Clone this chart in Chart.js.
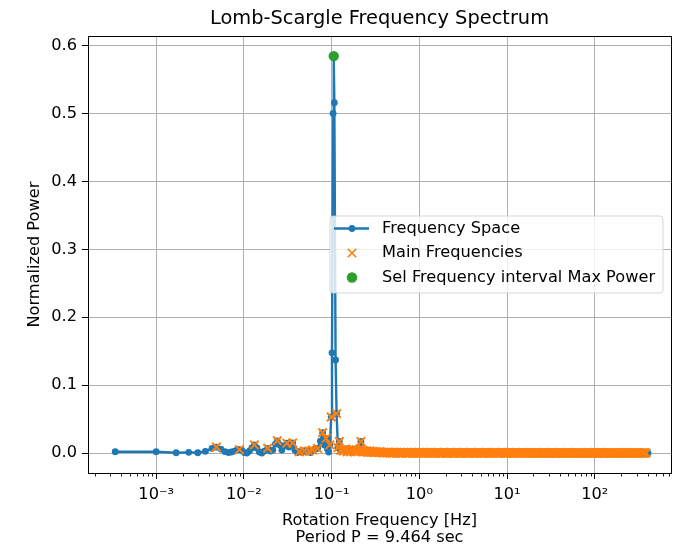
<!DOCTYPE html>
<html>
<head>
<meta charset="utf-8">
<title>Lomb-Scargle Frequency Spectrum</title>
<script src="https://cdn.jsdelivr.net/npm/chart.js@4.4.1/dist/chart.umd.min.js"></script>
<style>
  html, body { margin: 0; padding: 0; background: #fff; }
  #wrap { width: 682px; height: 547px; }
</style>
</head>
<body>
<div id="wrap"><canvas id="spectrum" width="682" height="547"></canvas></div>
<script>
// periodogram below ~0.13 Hz, including the main peak
const lowFreqs = [
  0.000341, 0.00100, 0.00169, 0.00235, 0.00298, 0.00364, 0.00434, 0.00486, 0.00547, 0.00608,
  0.00666, 0.00721, 0.00779, 0.00843, 0.00889, 0.00949, 0.01013, 0.01082, 0.01155, 0.01233,
  0.01317, 0.01406, 0.01501, 0.01603, 0.01712, 0.01867, 0.02004, 0.02139, 0.02285, 0.02406,
  0.02570, 0.02709, 0.02856, 0.03088, 0.03254, 0.03385, 0.03596, 0.03809, 0.04067, 0.04287,
  0.04587, 0.04887, 0.05200, 0.05500, 0.05780, 0.06076, 0.06523, 0.06928, 0.07434, 0.07900,
  0.08260, 0.08640, 0.08950, 0.09250, 0.09550, 0.09900, 0.10100, 0.10400, 0.10570, 0.10750,
  0.11100, 0.11400, 0.11800, 0.12240, 0.12700
];
const lowPowers = [
  0.0019, 0.0019, 0.0004, 0.0010, 0.0004, 0.0025, 0.0069, 0.0088, 0.0059, 0.0022,
  0.0007, 0.0015, 0.0029, 0.0051, 0.0050, 0.0037, 0.0007, 0.0000, 0.0029, 0.0074,
  0.0120, 0.0074, 0.0015, 0.0000, 0.0029, 0.0070, 0.0029, 0.0044, 0.0132, 0.0180,
  0.0118, 0.0044, 0.0103, 0.0145, 0.0088, 0.0118, 0.0150, 0.0044, 0.0007, 0.0020,
  0.0010, 0.0030, 0.0015, 0.0029, 0.0007, 0.0044, 0.0059, 0.0069, 0.0176, 0.0300,
  0.0120, 0.0216, 0.0060, 0.0015, 0.0120, 0.0530, 0.1475, 0.5000, 0.5845, 0.5160,
  0.1370, 0.0580, 0.0080, 0.0170, 0.0040
];

// flagged frequencies in the low band
const mainFreqs = [
  0.00486, 0.00889, 0.01317, 0.01867, 0.02406, 0.03088, 0.03596, 0.04287, 0.04887, 0.05500,
  0.06076, 0.06928, 0.07900, 0.08640, 0.09550, 0.09900, 0.11400, 0.11800, 0.12240, 0.12700
];
const mainPowers = [
  0.0088, 0.0050, 0.0120, 0.0070, 0.0180, 0.0145, 0.0150, 0.0020, 0.0030, 0.0029,
  0.0044, 0.0069, 0.0300, 0.0216, 0.0120, 0.0530, 0.0580, 0.0080, 0.0170, 0.0040
];

// dense tail above 0.13 Hz, all of it flagged as well
const tailFreqs = [
  0.132, 0.136, 0.140, 0.145, 0.150, 0.155, 0.160, 0.165, 0.170, 0.175,
  0.180, 0.185, 0.190, 0.195, 0.200, 0.206, 0.212, 0.216, 0.224, 0.230,
  0.236, 0.243, 0.250, 0.258, 0.265, 0.272, 0.280, 0.290, 0.300, 0.307,
  0.315, 0.325, 0.335, 0.345, 0.355, 0.365, 0.375, 0.387, 0.400, 0.412,
  0.425, 0.437, 0.450, 0.462, 0.475, 0.487, 0.500, 0.515, 0.530, 0.545,
  0.560, 0.580, 0.600, 0.615, 0.630, 0.650, 0.670, 0.690, 0.710, 0.730,
  0.750, 0.775, 0.800, 0.825, 0.850, 0.875, 0.900, 0.925, 0.950, 0.975,

  1.00, 1.03, 1.06, 1.09, 1.12, 1.15, 1.18, 1.22, 1.25, 1.28,
  1.32, 1.36, 1.40, 1.45, 1.50, 1.55, 1.60, 1.65, 1.70, 1.75,
  1.80, 1.85, 1.90, 1.95, 2.00, 2.06, 2.12, 2.18, 2.24, 2.30,
  2.36, 2.43, 2.50, 2.58, 2.65, 2.72, 2.80, 2.90, 3.00, 3.07,
  3.15, 3.25, 3.35, 3.45, 3.55, 3.65, 3.75, 3.87, 4.00, 4.12,
  4.25, 4.37, 4.50, 4.62, 4.75, 4.87, 5.00, 5.15, 5.30, 5.45,
  5.60, 5.80, 6.00, 6.15, 6.30, 6.50, 6.70, 6.90, 7.10, 7.30,
  7.50, 7.75, 8.00, 8.25, 8.50, 8.75, 9.00, 9.25, 9.50, 9.75,

  10.0, 10.3, 10.6, 10.9, 11.2, 11.5, 11.8, 12.2, 12.5, 12.8,
  13.2, 13.6, 14.0, 14.5, 15.0, 15.5, 16.0, 16.5, 17.0, 17.5,
  18.0, 18.5, 19.0, 19.5, 20.0, 20.6, 21.2, 21.8, 22.4, 23.0,
  23.6, 24.3, 25.0, 25.8, 26.5, 27.2, 28.0, 29.0, 30.0, 30.7,
  31.5, 32.5, 33.5, 34.5, 35.5, 36.5, 37.5, 38.7, 40.0, 41.2,
  42.5, 43.7, 45.0, 46.2, 47.5, 48.7, 50.0, 51.5, 53.0, 54.5,
  56.0, 58.0, 60.0, 61.5, 63.0, 65.0, 67.0, 69.0, 71.0, 73.0,
  75.0, 77.5, 80.0, 82.5, 85.0, 87.5, 90.0, 92.5, 95.0, 97.5,

  100, 103, 106, 109, 112, 115, 118, 122, 125, 128,
  132, 136, 140, 145, 150, 155, 160, 165, 170, 175,
  180, 185, 190, 195, 200, 206, 212, 218, 224, 230,
  236, 243, 250, 258, 265, 272, 280, 290, 300, 307,
  315, 325, 335, 345, 355, 365, 375, 383
];
const tailPowers = [
  0.005, 0.003, 0.004, 0.006, 0.002, 0.003, 0.004, 0.002, 0.005, 0.003,
  0.004, 0.002, 0.005, 0.003, 0.003, 0.004, 0.006, 0.017, 0.004, 0.002,
  0.003, 0.002, 0.003, 0.001, 0.002, 0.003, 0.001, 0.002, 0.001, 0.002,
  0.001, 0.002, 0.001, 0.001, 0.002, 0.001, 0.001, 0.000, 0.001, 0.001,
  0.000, 0.001, 0.001, 0.000, 0.001, 0.000, 0.001, 0.000, 0.001, 0.000,
  0.001, 0.000, 0.000, 0.001, 0.000, 0.000, 0.001, 0.000, 0.000, 0.001,
  0.000, 0.000, 0.001, 0.000, 0.000, 0.000, 0.001, 0.000, 0.000, 0.000,

  0.001, 0.000, 0.000, 0.001, 0.000, 0.000, 0.000, 0.001, 0.000, 0.000,
  0.000, 0.001, 0.000, 0.000, 0.000, 0.000, 0.001, 0.000, 0.000, 0.000,
  0.000, 0.000, 0.001, 0.000, 0.000, 0.000, 0.000, 0.000, 0.001, 0.000,
  0.000, 0.000, 0.000, 0.000, 0.000, 0.001, 0.000, 0.000, 0.000, 0.000,
  0.001, 0.000, 0.000, 0.000, 0.000, 0.000, 0.000, 0.001, 0.000, 0.000,
  0.000, 0.000, 0.000, 0.000, 0.001, 0.000, 0.000, 0.000, 0.000, 0.000,
  0.000, 0.001, 0.000, 0.000, 0.000, 0.000, 0.000, 0.000, 0.000, 0.001,
  0.000, 0.000, 0.000, 0.000, 0.000, 0.001, 0.000, 0.000, 0.000, 0.000,

  0.000, 0.000, 0.001, 0.000, 0.000, 0.000, 0.000, 0.000, 0.000, 0.000,
  0.000, 0.000, 0.000, 0.000, 0.001, 0.000, 0.000, 0.000, 0.000, 0.000,
  0.000, 0.000, 0.000, 0.000, 0.000, 0.000, 0.000, 0.001, 0.000, 0.000,
  0.000, 0.000, 0.000, 0.000, 0.000, 0.000, 0.000, 0.000, 0.000, 0.000,
  0.000, 0.001, 0.000, 0.000, 0.000, 0.000, 0.000, 0.000, 0.000, 0.000,
  0.000, 0.000, 0.000, 0.000, 0.000, 0.000, 0.001, 0.000, 0.000, 0.000,
  0.000, 0.000, 0.000, 0.000, 0.000, 0.000, 0.000, 0.000, 0.000, 0.000,
  0.000, 0.000, 0.000, 0.001, 0.000, 0.000, 0.000, 0.000, 0.000, 0.000,

  0.000, 0.000, 0.000, 0.000, 0.000, 0.000, 0.001, 0.000, 0.000, 0.000,
  0.000, 0.000, 0.000, 0.000, 0.000, 0.000, 0.000, 0.000, 0.000, 0.000,
  0.000, 0.000, 0.000, 0.000, 0.000, 0.000, 0.000, 0.000, 0.001, 0.000,
  0.000, 0.000, 0.000, 0.000, 0.000, 0.000, 0.000, 0.000, 0.000, 0.000,
  0.000, 0.000, 0.000, 0.000, 0.000, 0.000, 0.000, 0.000
];

// last grid frequency (not flagged)
const endFreqs = [405];
const endPowers = [0.000];

// selected interval maximum
const selFreqs = [0.1057];
const selPowers = [0.5845];

const xTickValues = [1e-3, 1e-2, 1e-1, 1, 10, 100];
const xTickLabels = ['10\u207B\u00B3', '10\u207B\u00B2', '10\u207B\u00B9', '10\u2070', '10\u00B9', '10\u00B2'];
const yTickValues = [0, 0.1, 0.2, 0.3, 0.4, 0.5, 0.6];
const yTickLabels = ['0.0', '0.1', '0.2', '0.3', '0.4', '0.5', '0.6'];

const toPoints = (xs, ys) => xs.map((x, i) => ({ x: x, y: ys[i] }));

const spectrumPts = toPoints(lowFreqs.concat(tailFreqs, endFreqs), lowPowers.concat(tailPowers, endPowers));
const mainPts = toPoints(mainFreqs.concat(tailFreqs), mainPowers.concat(tailPowers));
const selPts = toPoints(selFreqs, selPowers);

const FONT = "'DejaVu Sans', sans-serif";
const LABEL_SIZE = 16.2;
Chart.defaults.font.family = FONT;
Chart.defaults.font.size = LABEL_SIZE;
Chart.defaults.color = '#000';

// top/right spines and log minor ticks
const axesDecor = {
  id: 'axesDecor',
  afterDatasetsDraw(chart) {
    const { ctx, chartArea: a, scales: { x } } = chart;
    ctx.save();
    ctx.strokeStyle = '#000';
    ctx.lineWidth = 0.9;
    for (let e = -4; e <= 2; e++) {
      for (let m = 2; m <= 9; m++) {
        const v = m * Math.pow(10, e);
        if (v < x.min || v > x.max) continue;
        const px = Math.round(x.getPixelForValue(v)) + 0.5;
        ctx.beginPath();
        ctx.moveTo(px, a.bottom);
        ctx.lineTo(px, a.bottom + 3.5);
        ctx.stroke();
      }
    }
    ctx.lineWidth = 1;
    ctx.strokeRect(Math.round(a.left) + 0.5, Math.round(a.top) + 0.5,
      Math.round(a.right - a.left), Math.round(a.bottom - a.top));
    ctx.restore();
  }
};

// legend drawn inside the axes, right side
const insideLegend = {
  id: 'insideLegend',
  afterDraw(chart) {
    const { ctx } = chart;
    const ds = chart.data.datasets;
    const box = { x: 330, y: 216, w: 333, h: 77, r: 3 };
    ctx.save();
    ctx.beginPath();
    ctx.moveTo(box.x + box.r, box.y);
    ctx.arcTo(box.x + box.w, box.y, box.x + box.w, box.y + box.h, box.r);
    ctx.arcTo(box.x + box.w, box.y + box.h, box.x, box.y + box.h, box.r);
    ctx.arcTo(box.x, box.y + box.h, box.x, box.y, box.r);
    ctx.arcTo(box.x, box.y, box.x + box.w, box.y, box.r);
    ctx.closePath();
    ctx.fillStyle = 'rgba(255,255,255,0.8)';
    ctx.fill();
    ctx.strokeStyle = 'rgba(204,204,204,0.8)';
    ctx.lineWidth = 1;
    ctx.stroke();

    const rows = [228.5, 253, 277.5];
    const mx = 352;
    // Frequency Space: line + dot
    ctx.strokeStyle = ds[0].borderColor;
    ctx.lineWidth = ds[0].borderWidth;
    ctx.beginPath();
    ctx.moveTo(334, rows[0]);
    ctx.lineTo(369, rows[0]);
    ctx.stroke();
    ctx.fillStyle = ds[0].borderColor;
    ctx.beginPath();
    ctx.arc(mx, rows[0], ds[0].pointRadius, 0, Math.PI * 2);
    ctx.fill();
    // Main Frequencies: x marker
    const d = ds[1].pointRadius * Math.SQRT1_2;
    ctx.strokeStyle = ds[1].borderColor;
    ctx.lineWidth = 1.7;
    ctx.beginPath();
    ctx.moveTo(mx - d, rows[1] - d); ctx.lineTo(mx + d, rows[1] + d);
    ctx.moveTo(mx - d, rows[1] + d); ctx.lineTo(mx + d, rows[1] - d);
    ctx.stroke();
    // Sel Frequency interval Max Power: filled circle
    ctx.fillStyle = ds[2].backgroundColor;
    ctx.beginPath();
    ctx.arc(mx, rows[2], ds[2].pointRadius, 0, Math.PI * 2);
    ctx.fill();

    ctx.fillStyle = '#000';
    ctx.font = LABEL_SIZE + 'px ' + FONT;
    ctx.textBaseline = 'middle';
    ctx.textAlign = 'left';
    ds.forEach((d, i) => ctx.fillText(d.label, 382, rows[i]));
    ctx.restore();
  }
};

new Chart(document.getElementById('spectrum'), {
  type: 'scatter',
  data: {
    datasets: [
      {
        label: 'Frequency Space',
        data: spectrumPts,
        showLine: true,
        borderColor: '#1f77b4',
        backgroundColor: '#1f77b4',
        borderWidth: 2.4,
        borderJoinStyle: 'round',
        pointRadius: 3.4,
        pointBorderWidth: 0,
        order: 3
      },
      {
        label: 'Main Frequencies',
        data: mainPts,
        pointStyle: 'crossRot',
        pointRadius: 6,
        borderColor: '#ff7f0e',
        backgroundColor: '#ff7f0e',
        borderWidth: 2,
        order: 2
      },
      {
        label: 'Sel Frequency interval Max Power',
        data: selPts,
        pointRadius: 5.2,
        borderColor: '#2ca02c',
        backgroundColor: '#2ca02c',
        borderWidth: 0,
        order: 1
      }
    ]
  },
  options: {
    responsive: false,
    animation: false,
    events: [],
    layout: { padding: { left: 0, right: 11, top: 0, bottom: 0 } },
    plugins: {
      legend: { display: false },
      tooltip: { enabled: false },
      title: {
        display: true,
        text: 'Lomb-Scargle Frequency Spectrum',
        fullSize: false,
        color: '#000',
        font: { size: 19.4, weight: 'normal' },
        padding: { top: 7, bottom: 6 }
      }
    },
    scales: {
      x: {
        type: 'logarithmic',
        bounds: 'data',
        min: 1.671e-4,
        max: 739.6,
        afterBuildTicks: s => { s.ticks = xTickValues.map(v => ({ value: v })); },
        afterFit: s => { s.height = 74; },
        ticks: {
          autoSkip: false,
          maxRotation: 0,
          padding: 6,
          callback: (v, i) => xTickLabels[i]
        },
        grid: { color: '#b0b0b0', lineWidth: 1, tickColor: '#000', tickLength: 6, tickWidth: 1 },
        border: { color: '#000', width: 1 },
        title: {
          display: true,
          text: ['Rotation Frequency [Hz]', 'Period P = 9.464 sec'],
          font: { lineHeight: 1.08 },
          padding: { top: 0, bottom: 0 }
        }
      },
      y: {
        bounds: 'data',
        min: -0.0294,
        max: 0.6137,
        afterBuildTicks: s => { s.ticks = yTickValues.map(v => ({ value: v })); },
        afterFit: s => { s.width = 88; },
        ticks: {
          padding: 5,
          callback: (v, i) => yTickLabels[i]
        },
        grid: { color: '#b0b0b0', lineWidth: 1, tickColor: '#000', tickLength: 6, tickWidth: 1 },
        border: { color: '#000', width: 1 },
        title: {
          display: true,
          text: 'Normalized Power',
          padding: { top: 25, bottom: 0 }
        }
      }
    }
  },
  plugins: [axesDecor, insideLegend]
});
</script>
</body>
</html>
